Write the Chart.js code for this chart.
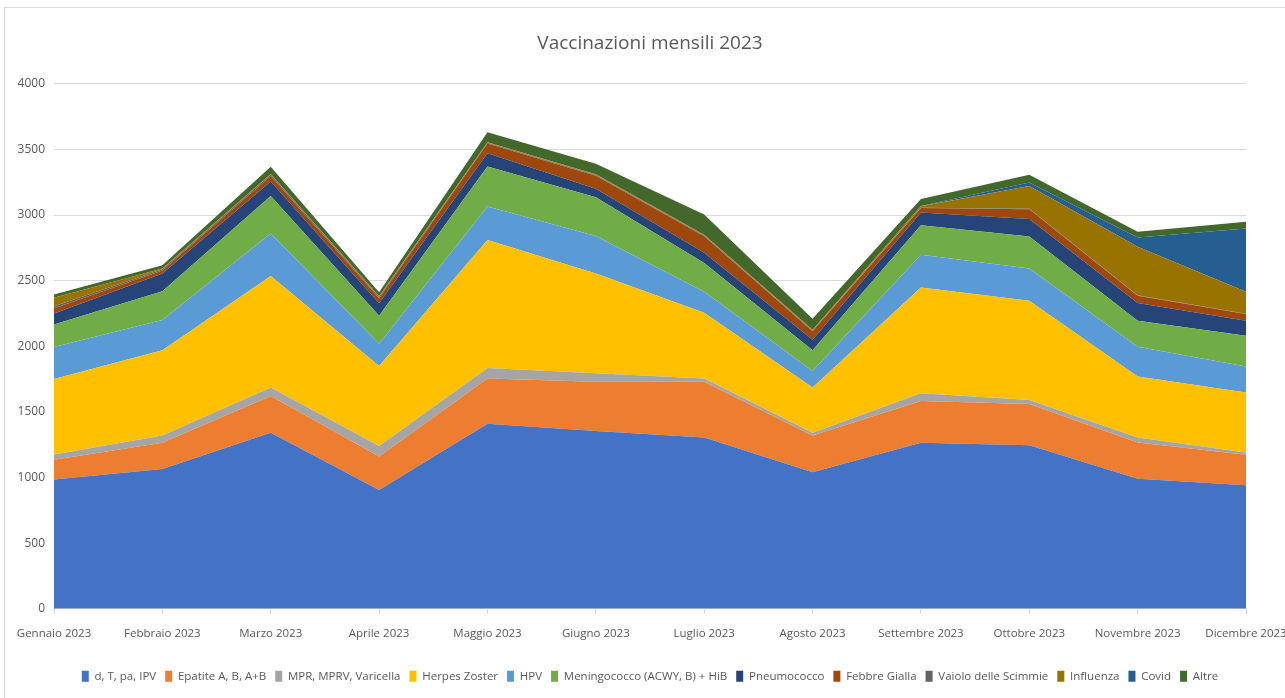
<!DOCTYPE html>
<html>
<head>
<meta charset="utf-8">
<script src="https://cdn.jsdelivr.net/npm/chart.js@4"></script>
<style>
  body { margin: 0; background: #fff; }
  #frame { position: absolute; left: 4px; top: 7px; width: 1300px; height: 720px; border: 1px solid #d9d9d9; }
  #wrap { position: absolute; left: 0; top: 0; width: 1285px; height: 698px; }
</style>
</head>
<body>
<div id="frame"></div>
<div id="wrap"><canvas id="myChart"></canvas></div>
<script>
// dati mensili (stima dal grafico)
const mesi = ['Gennaio 2023', 'Febbraio 2023', 'Marzo 2023', 'Aprile 2023', 'Maggio 2023', 'Giugno 2023',
  'Luglio 2023', 'Agosto 2023', 'Settembre 2023', 'Ottobre 2023', 'Novembre 2023', 'Dicembre 2023'];

const dtpaIpv      = [985, 1065, 1340, 905, 1410, 1355, 1305, 1040, 1265, 1245, 990, 940];
const epatite      = [150, 200, 280, 255, 345, 375, 425, 280, 318, 315, 277, 233];
const mprVaricella = [40, 55, 65, 80, 80, 65, 25, 20, 58, 30, 38, 18];
const herpesZoster = [575, 650, 850, 610, 975, 760, 500, 345, 807, 757, 465, 457];
const hpv          = [245, 230, 325, 170, 255, 285, 160, 127, 249, 246, 226, 198];
const meningococco = [170, 220, 285, 213, 305, 295, 220, 158, 226, 244, 198, 234];
const pneumococco  = [85, 135, 110, 95, 100, 65, 77, 79, 97, 132, 135, 114];
const febbreGialla = [40, 22, 43, 38, 75, 100, 127, 66, 33, 75, 56, 51];
const vaiolo       = [15, 10, 10, 10, 5, 5, 5, 5, 3, 3, 3, 3];
const influenza    = [65, 5, 5, 5, 5, 5, 5, 5, 10, 175, 370, 167];
const covid        = [0, 0, 0, 0, 0, 0, 0, 0, 2, 26, 71, 483];
const altre        = [25, 25, 55, 30, 75, 80, 155, 85, 55, 59, 43, 51];

const serie = [
  ['d, T, pa, IPV', dtpaIpv, '#4472C4'],
  ['Epatite A, B, A+B', epatite, '#ED7D31'],
  ['MPR, MPRV, Varicella', mprVaricella, '#A5A5A5'],
  ['Herpes Zoster', herpesZoster, '#FFC000'],
  ['HPV', hpv, '#5B9BD5'],
  ['Meningococco (ACWY, B) + HiB', meningococco, '#70AD47'],
  ['Pneumococco', pneumococco, '#264478'],
  ['Febbre Gialla', febbreGialla, '#9E480E'],
  ['Vaiolo delle Scimmie', vaiolo, '#636363'],
  ['Influenza', influenza, '#997300'],
  ['Covid', covid, '#255E91'],
  ['Altre', altre, '#43682B']
];

const font = '"Liberation Sans Narrow", "Open Sans", sans-serif';

new Chart(document.getElementById('myChart'), {
  type: 'line',
  data: {
    labels: mesi,
    datasets: serie.map(([label, data, color], i) => ({
      label: label,
      data: data,
      backgroundColor: color,
      borderColor: color,
      borderWidth: 0,
      pointRadius: 0,
      fill: i === 0 ? 'origin' : '-1',
      tension: 0
    }))
  },
  options: {
    responsive: true,
    maintainAspectRatio: false,
    animation: false,
    layout: { padding: { top: 32, left: 0, right: 39, bottom: 6 } },
    plugins: {
      title: {
        display: true,
        fullSize: false,
        text: 'Vaccinazioni mensili 2023',
        color: '#595959',
        font: { family: font, size: 19, weight: 'normal' },
        padding: { top: 0, bottom: 29 }
      },
      legend: {
        position: 'bottom',
        fullSize: false,
        labels: {
          color: '#595959',
          font: { family: font, size: 11.5 },
          boxWidth: 7,
          boxHeight: 11,
          padding: 9
        }
      },
      tooltip: { enabled: false }
    },
    scales: {
      x: {
        offset: false,
        afterFit: (s) => { s.paddingLeft = 0; s.paddingRight = 0; s.height += 8; },
        grid: { drawOnChartArea: false, drawTicks: true, tickLength: 5, color: '#d9d9d9' },
        border: { color: '#d9d9d9' },
        ticks: { color: '#595959', font: { family: font, size: 11.5 }, maxRotation: 0, autoSkip: false, padding: 13 }
      },
      y: {
        stacked: true,
        min: 0,
        max: 4000,
        afterFit: (s) => { s.width = 54; },
        grid: { color: '#d9d9d9', lineWidth: 1, drawTicks: false },
        border: { display: false },
        ticks: { stepSize: 500, color: '#595959', font: { family: font, size: 12 }, padding: 9,
          callback: (v) => String(v) }
      }
    }
  }
});
</script>
</body>
</html>
